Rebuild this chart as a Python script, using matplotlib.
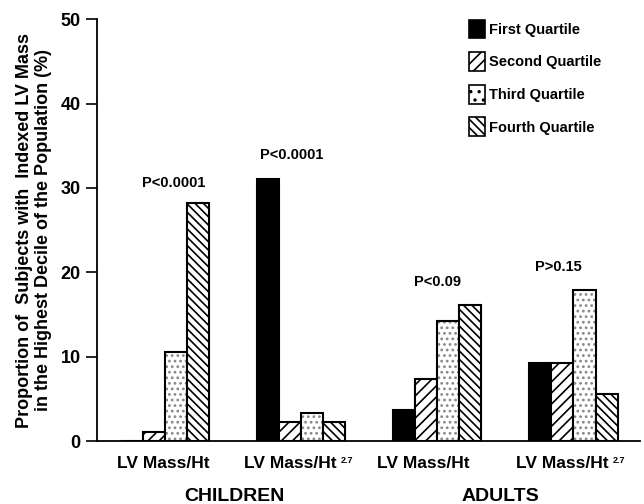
import numpy as np
import matplotlib
matplotlib.use("Agg")
import matplotlib.pyplot as plt
from matplotlib.patches import Patch
from matplotlib.transforms import blended_transform_factory, offset_copy

plt.rcParams['font.family'] = ['Liberation Sans', 'DejaVu Sans']
plt.rcParams['font.weight'] = 'bold'
plt.rcParams['hatch.linewidth'] = 1.2

# data
groups = ['LV Mass/Ht', 'LV Mass/Ht', 'LV Mass/Ht', 'LV Mass/Ht']
group_sup = ['', '2.7', '', '2.7']
quartiles = ['First Quartile', 'Second Quartile', 'Third Quartile', 'Fourth Quartile']
first = [0, 31.0, 3.7, 9.2]
second = [1.1, 2.3, 7.3, 9.2]
third = [10.5, 3.3, 14.2, 17.9]
fourth = [28.2, 2.3, 16.1, 5.6]
p_labels = ['P<0.0001', 'P<0.0001', 'P<0.09', 'P>0.15']
populations = ['CHILDREN', 'ADULTS']

# layout
p_pos = [(0.06, 30.6), (-0.07, 33.9), (0.0, 18.8), (-0.11, 20.6)]
label_dx = [-0.015, -0.08, -0.1, -0.08]
pop_x = [0.51, 2.46]

series = [first, second, third, fourth]
hatches = [None, '///', '..', '\\\\\\\\']
faces = ['black', 'white', 'white', 'white']

fig = plt.figure(figsize=(6.44, 5.04), dpi=100)
ax = fig.add_axes([0.151, 0.125, 0.843, 0.837])

x = np.arange(len(groups))
w = 0.162
for i, vals in enumerate(series):
    pos = x + (i - 1.5) * w
    if hatches[i] == '..':
        ax.bar(pos, vals, w, color='white', edgecolor='#888888', hatch='...', linewidth=0)
        ax.bar(pos, vals, w, fill=False, edgecolor='black', linewidth=1.5)
    else:
        ax.bar(pos, vals, w, color=faces[i], edgecolor='black', hatch=hatches[i], linewidth=1.5)

for xi, lab, (dx, yy) in zip(x, p_labels, p_pos):
    ax.text(xi + dx, yy, lab, ha='center', va='center', fontsize=10.5, fontweight='bold')

ax.set_xlim(-0.5, 3.49)
ax.set_ylim(0, 50)
ax.set_yticks([0, 10, 20, 30, 40, 50])
ax.tick_params(axis='y', direction='out', length=8, width=1.2, labelsize=13, pad=4)
ax.set_xticks([])
for lbl in ax.get_yticklabels():
    lbl.set_fontweight('bold')

trans = blended_transform_factory(ax.transData, ax.transAxes)
main_labels = []
for xi, lab, dx in zip(x, groups, label_dx):
    t = ax.text(xi + dx, -0.064, lab, transform=trans, ha='center', va='baseline',
                fontsize=12.5, fontweight='bold')
    main_labels.append(t)
for px, lab in zip(pop_x, populations):
    ax.text(px, -0.142, lab, transform=trans, ha='center', va='baseline',
            fontsize=14, fontweight='bold')

ax.spines['top'].set_visible(False)
ax.spines['right'].set_visible(False)
ax.spines['left'].set_linewidth(1.3)
ax.spines['bottom'].set_linewidth(1.3)

ax.set_ylabel('Proportion of  Subjects with  Indexed LV Mass\nin the Highest Decile of the Population (%)',
              fontsize=13, fontweight='bold', labelpad=6)

handles = [Patch(facecolor=faces[i], edgecolor='black', hatch=hatches[i], linewidth=1.2) for i in range(4)]
leg = ax.legend(handles, quartiles, loc='upper left', bbox_to_anchor=(0.66, 1.03), frameon=False,
                handlelength=1.1, handleheight=1.6, handletextpad=0.3, labelspacing=0.95,
                prop={'weight': 'bold', 'size': 10.5})

# small superscripts after the labels
fig.canvas.draw()
inv = fig.transFigure.inverted()
for t, sup in zip(main_labels, group_sup):
    if not sup:
        continue
    bb = t.get_window_extent()
    fx, fy = inv.transform((bb.x1 + 4, bb.y1 - 5))
    fig.text(fx, fy, sup, ha='left', va='center', fontsize=6.5, fontweight='bold')

fig.savefig('out.png', dpi=100)
